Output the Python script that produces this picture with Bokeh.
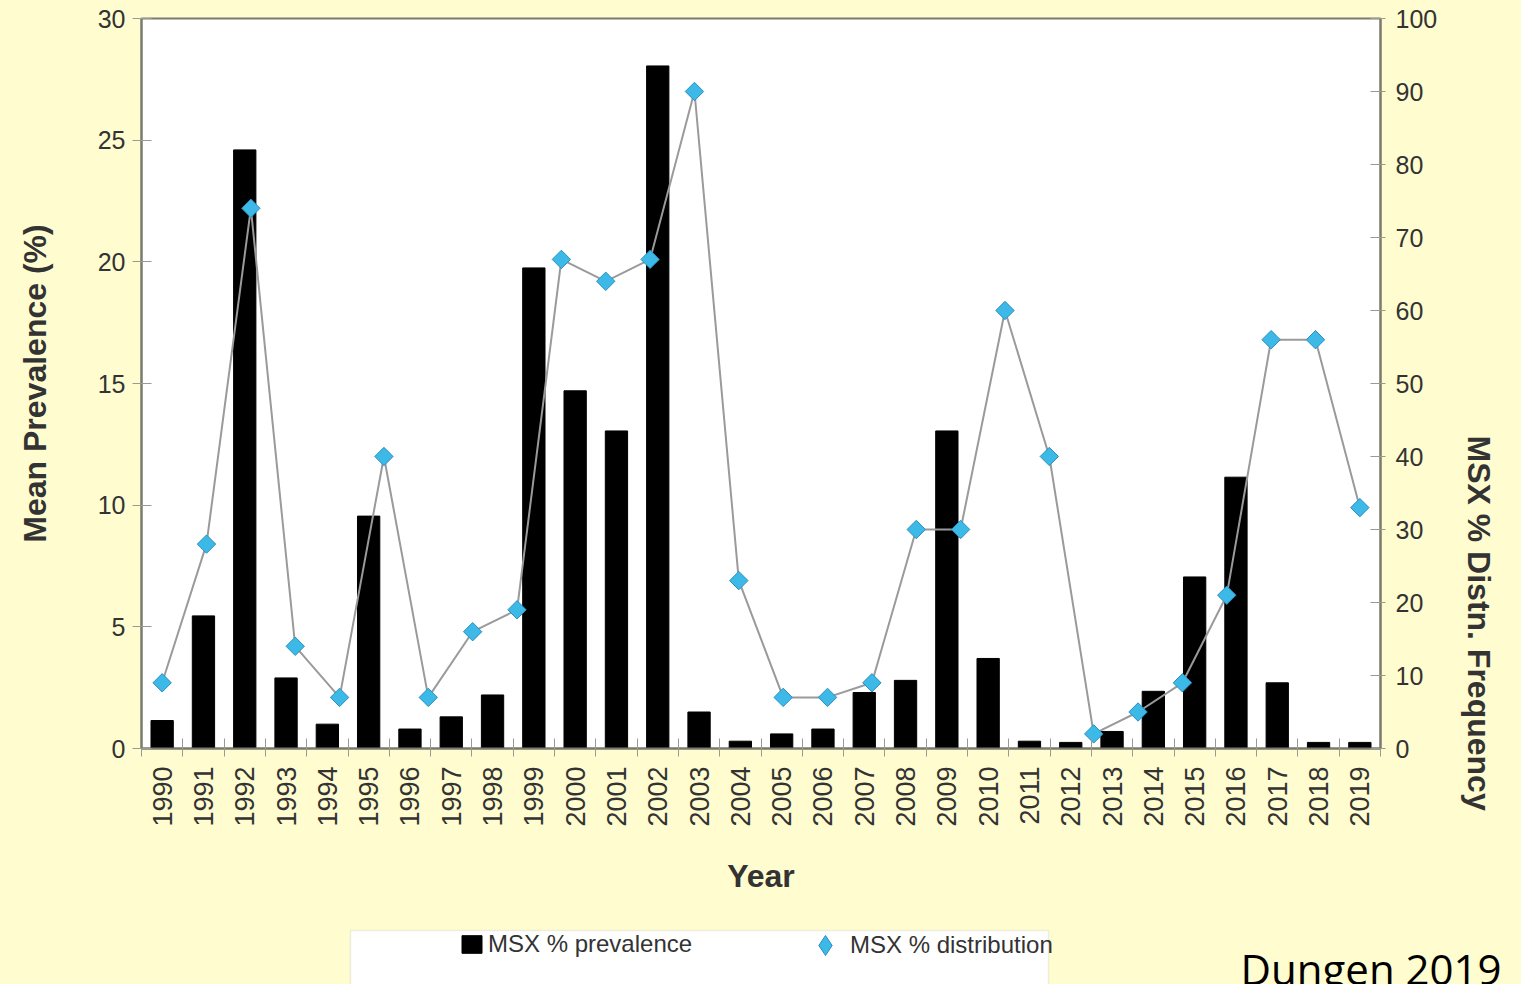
import numpy as np
from bokeh.plotting import figure
from bokeh.layouts import column
from bokeh.models import (Range1d, LinearAxis, FixedTicker, SingleIntervalTicker,
                          Legend, LegendItem, Title, Label, BoxAnnotation,
                          GlobalInlineStyleSheet)
from bokeh.embed import file_html
from bokeh.resources import INLINE

# ---------------- data ----------------
years = [str(y) for y in range(1990, 2020)]
prevalence = [1.15, 5.45, 24.6, 2.9, 1.0, 9.55, 0.8, 1.3, 2.2, 19.75,
              14.7, 13.05, 28.05, 1.5, 0.3, 0.6, 0.8, 2.3, 2.8, 13.05,
              3.7, 0.3, 0.25, 0.7, 2.35, 7.05, 11.15, 2.7, 0.25, 0.25]
distribution = [9, 28, 74, 14, 7, 40, 7, 16, 19, 67, 64, 67, 90, 23,
                7, 7, 9, 30, 30, 60, 40, 2, 5, 9, 21, 56, 56, 33]
left_ticks_step = 5
right_ticks_step = 10

# ---------------- style ----------------
BG = "#FFFCCF"
AXIS = "#7a7a70"
TICK = "#9a9a90"
TXT = "#333333"
FONT = "Liberation Sans"
DIAMOND_FILL = "#3DB9E8"
DIAMOND_LINE = "#2A8FC0"

W = 1521
H_MAIN = 900
H_KEY = 84

n = len(years)
xs = list(range(n))
m = len(distribution)
dist_idx = list(range(m))
# the distribution series is spread evenly from the first to the last category
half = 0.5 * (m - 1) / (n - 1)

# ================= main chart =================
p = figure(width=W, height=H_MAIN,
           x_range=Range1d(-0.5, n - 0.5), y_range=Range1d(0, 30),
           output_backend="svg", toolbar_location=None,
           min_border_left=141, min_border_right=141,
           min_border_top=18, min_border_bottom=H_MAIN - 748)
p.frame_align = False
p.background_fill_color = "white"
p.border_fill_color = BG
p.outline_line_color = AXIS
p.outline_line_width = 2
p.xgrid.visible = False
p.ygrid.visible = False
p.stylesheets = [GlobalInlineStyleSheet(css=f"body {{ background-color: {BG}; }}")]

p.extra_y_ranges = {"dist": Range1d(0, 100)}
p.extra_x_ranges = {"distx": Range1d(-half, (m - 1) + half)}

p.vbar(x=xs, top=prevalence, width=0.54, fill_color="black", line_color="black")
p.line(x=dist_idx, y=distribution, x_range_name="distx", y_range_name="dist",
       line_color="#9a9a9a", line_width=2)
p.scatter(x=dist_idx, y=distribution, x_range_name="distx", y_range_name="dist",
          marker="square", angle=np.pi / 4, size=13, fill_color=DIAMOND_FILL,
          line_color=DIAMOND_LINE, line_width=1)

# x axis
xa = p.xaxis[0]
xa.ticker = FixedTicker(ticks=xs, minor_ticks=[i - 0.5 for i in range(n + 1)])
xa.major_label_overrides = {i: y for i, y in enumerate(years)}
xa.major_label_orientation = np.pi / 2
xa.major_tick_in = 0
xa.major_tick_out = 0
xa.minor_tick_in = 10
xa.minor_tick_out = 8
xa.minor_tick_line_color = TICK
xa.major_label_standoff = 10
xa.axis_line_color = AXIS
xa.axis_line_width = 2
xa.major_label_text_font = FONT
xa.major_label_text_font_size = "27px"
xa.major_label_text_color = TXT
xa.axis_label = "Year"
xa.axis_label_text_font = FONT
xa.axis_label_text_font_size = "32px"
xa.axis_label_text_font_style = "bold"
xa.axis_label_text_color = TXT
xa.axis_label_standoff = 28

# left axis
ya = p.yaxis[0]
ya.ticker = SingleIntervalTicker(interval=left_ticks_step, num_minor_ticks=0)
ya.major_tick_in = 10
ya.major_tick_out = 9
ya.major_tick_line_color = TICK
ya.minor_tick_line_color = None
ya.axis_line_color = AXIS
ya.axis_line_width = 2
ya.major_label_text_font = FONT
ya.major_label_text_font_size = "25px"
ya.major_label_text_color = TXT
ya.major_label_standoff = 7
ya.axis_label = "Mean Prevalence (%)"
ya.axis_label_text_font = FONT
ya.axis_label_text_font_size = "32px"
ya.axis_label_text_font_style = "bold"
ya.axis_label_text_color = TXT
ya.axis_label_standoff = 42

# right axis
ra = LinearAxis(y_range_name="dist",
                ticker=SingleIntervalTicker(interval=right_ticks_step, num_minor_ticks=0))
ra.major_tick_in = 10
ra.major_tick_out = 5
ra.major_tick_line_color = TICK
ra.minor_tick_line_color = None
ra.axis_line_color = AXIS
ra.axis_line_width = 2
ra.major_label_text_font = FONT
ra.major_label_text_font_size = "25px"
ra.major_label_text_color = TXT
ra.major_label_standoff = 10
p.add_layout(ra, "right")

p.add_layout(Title(text="MSX % Distn. Frequency", align="left", offset=417,
                   vertical_align="bottom", standoff=40,
                   text_font=FONT, text_font_size="32px", text_font_style="bold",
                   text_color=TXT), "right")

# ================= key strip (legend + credit) =================
q = figure(width=W, height=H_KEY, x_range=Range1d(-200, -100), y_range=Range1d(-200, -100),
           x_axis_type=None, y_axis_type=None,
           output_backend="svg", toolbar_location=None,
           min_border_left=0, min_border_right=0, min_border_top=0, min_border_bottom=0)
q.frame_align = False
q.background_fill_color = BG
q.border_fill_color = BG
q.outline_line_color = None

# key renderers share the chart's data (they lie outside this strip's view)
key_bars = q.vbar(x=xs, top=prevalence, width=0.54, fill_color="black", line_color="black")
key_pts = q.scatter(x=dist_idx, y=distribution, marker="diamond", size=13,
                    fill_color=DIAMOND_FILL, line_color=DIAMOND_LINE, line_width=1)

# screen positions inside the strip (measured from its bottom-left corner)
box_top = H_KEY - (930 - H_MAIN)
q.add_layout(BoxAnnotation(left=350, right=1048, top=box_top, bottom=-6,
                           left_units="screen", right_units="screen",
                           top_units="screen", bottom_units="screen",
                           fill_color="white", fill_alpha=1.0,
                           line_color="#c8c8b8", line_width=1.5))

common = dict(orientation="horizontal", padding=0, margin=0, spacing=0,
              border_line_alpha=0, background_fill_alpha=0,
              label_text_font=FONT, label_text_font_size="24px", label_text_color=TXT)
leg1 = Legend(items=[LegendItem(label="MSX % prevalence", renderers=[key_bars])],
              location=(459, 26), glyph_width=25, glyph_height=22, label_standoff=4,
              **common)
leg2 = Legend(items=[LegendItem(label="MSX % distribution", renderers=[key_pts])],
              location=(800, 14), glyph_width=50, glyph_height=50, label_standoff=-7,
              **common)
q.add_layout(leg1)
q.add_layout(leg2)

q.add_layout(Label(text="Dungen 2019", x=1240, y=16, x_units="screen", y_units="screen",
                   text_font="Open Sans", text_font_size="42px", text_color="black",
                   text_baseline="alphabetic"))

layout = column(p, q, spacing=0)
open("out.html", "w").write(file_html(layout, INLINE))
